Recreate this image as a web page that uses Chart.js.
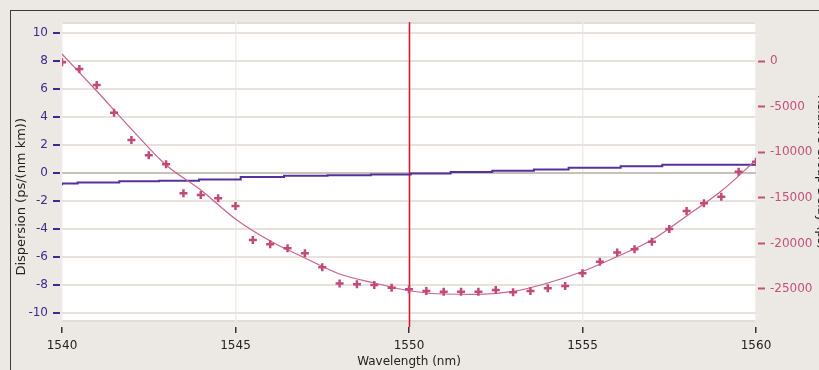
<!DOCTYPE html>
<html>
<head>
<meta charset="utf-8">
<script src="https://cdn.jsdelivr.net/npm/chart.js@4.4.0/dist/chart.umd.min.js"></script>
<style>
  html, body { margin: 0; padding: 0; background: #ece9e5; overflow: hidden; }
  #frame { position: absolute; left: 10px; top: 10px; width: 820px; height: 370px;
           border-left: 1px solid #3c3c3c; border-top: 1px solid #3c3c3c; }
  #wrap { position: absolute; left: 0; top: 0; }
</style>
</head>
<body>
<div id="frame"></div>
<div id="wrap"><canvas id="chart" width="832" height="370"></canvas></div>
<script>
// measured points (0.5 nm steps), right axis
const wavelengths = [1540, 1540.5, 1541, 1541.5, 1542, 1542.5, 1543, 1543.5, 1544, 1544.5,
                     1545, 1545.5, 1546, 1546.5, 1547, 1547.5, 1548, 1548.5, 1549, 1549.5,
                     1550, 1550.5, 1551, 1551.5, 1552, 1552.5, 1553, 1553.5, 1554, 1554.5,
                     1555, 1555.5, 1556, 1556.5, 1557, 1557.5, 1558, 1558.5, 1559, 1559.5, 1560];
const delayMeasured = [-140, -880, -2630, -5670, -8660, -10340, -11330, -14510, -14690, -15060,
                       -15900, -19630, -20100, -20540, -21090, -22620, -24400, -24490, -24560, -24860,
                       -25030, -25220, -25300, -25300, -25300, -25110, -25360, -25220, -24920, -24670,
                       -23280, -22010, -21000, -20650, -19810, -18420, -16450, -15600, -14880, -12140, -11040];

// fitted curve, right axis
const fitWavelengths = [1540, 1541, 1542, 1543, 1544, 1545, 1546, 1547, 1548, 1549, 1550,
                        1551, 1552, 1553, 1554, 1555, 1556, 1557, 1558, 1559, 1560];
const delayFit = [770, -3290, -7460, -11400, -14150, -17330, -19740, -21600, -23360, -24340, -25190,
                  -25550, -25580, -25270, -24340, -23080, -21440, -19630, -17000, -14260, -10860];

// dispersion (stepped), left axis
const stepWavelengths = [1540, 1540.45, 1541.65, 1542.8, 1543.95, 1545.15, 1546.4, 1547.65, 1548.9,
                         1550.05, 1551.2, 1552.4, 1553.6, 1554.6, 1556.1, 1557.3, 1558.6, 1560];
const dispersion = [-0.89, -0.77, -0.70, -0.60, -0.56, -0.48, -0.30, -0.22, -0.18,
                    -0.12, -0.05, 0.05, 0.14, 0.23, 0.35, 0.47, 0.58, 0.58];

const xTicks = [1540, 1545, 1550, 1555, 1560];
const leftTicks = [-10, -8, -6, -4, -2, 0, 2, 4, 6, 8, 10];
const rightTicks = [-25000, -20000, -15000, -10000, -5000, 0];
const markerWavelength = 1550;

const pink = "#c4507c";
const purple = "#3d2a8c";
const font = { family: "DejaVu Sans", size: 12 };

const plotBg = {
    id: "plotBg",
    beforeDraw(chart) {
        const { ctx, chartArea: a } = chart;
        ctx.save();
        ctx.fillStyle = "#ffffff";
        ctx.fillRect(a.left, a.top, a.right - a.left, a.bottom - a.top);
        ctx.strokeStyle = "#e2dcd6";
        ctx.lineWidth = 2;
        ctx.beginPath();
        ctx.moveTo(a.left, a.top + 1); ctx.lineTo(a.right, a.top + 1);
        ctx.moveTo(a.left, a.bottom - 1); ctx.lineTo(a.right, a.bottom - 1);
        ctx.stroke();
        ctx.restore();
    },
    beforeDatasetsDraw(chart) {
        // red marker line at 1550 nm
        const { ctx, chartArea: a } = chart;
        const x = Math.round(chart.scales.x.getPixelForValue(markerWavelength)) + 0.5;
        ctx.save();
        ctx.strokeStyle = "#e0102a";
        ctx.lineWidth = 1.5;
        ctx.beginPath();
        ctx.moveTo(x, a.top);
        ctx.lineTo(x, a.bottom + 5);
        ctx.stroke();
        ctx.restore();
    }
};

new Chart(document.getElementById("chart"), {
    type: "scatter",
    data: {
        datasets: [{
            label: "measured",
            data: wavelengths.map((w, i) => ({ x: w, y: delayMeasured[i] })),
            yAxisID: "y2",
            showLine: false,
            pointStyle: "cross",
            pointRadius: 4,
            pointBorderWidth: 2.5,
            borderColor: "#c24a78",
            order: 1
        }, {
            label: "fit",
            data: fitWavelengths.map((w, i) => ({ x: w, y: delayFit[i] })),
            yAxisID: "y2",
            showLine: true,
            tension: 0.4,
            cubicInterpolationMode: "monotone",
            borderColor: "#c8648c",
            borderWidth: 1.2,
            pointRadius: 0,
            order: 2
        }, {
            label: "dispersion",
            data: stepWavelengths.map((w, i) => ({ x: w, y: dispersion[i] })),
            yAxisID: "y",
            showLine: true,
            stepped: "after",
            borderColor: "#56309c",
            borderWidth: 2,
            pointRadius: 0,
            order: 3
        }]
    },
    options: {
        responsive: false,
        animation: false,
        layout: { padding: { top: 22, left: 0, right: 0, bottom: 0 } },
        plugins: { legend: { display: false }, tooltip: { enabled: false } },
        scales: {
            x: {
                type: "linear",
                position: "bottom",
                min: 1540,
                max: 1560,
                afterFit: (s) => { s.height = 48; },
                afterBuildTicks: (s) => { s.ticks = xTicks.map(v => ({ value: v })); },
                ticks: { color: "#222", font: font, padding: 6, maxRotation: 0, callback: (v) => String(v) },
                grid: {
                    color: "#f0ece8",
                    lineWidth: 1.5,
                    tickColor: "#333",
                    tickWidth: 1.5,
                    tickLength: 11,
                    tickBorderDash: [0, 5, 6, 20]
                },
                border: { display: false },
                title: { display: true, text: "Wavelength (nm)", color: "#222", font: font,
                         padding: { top: 0, bottom: 1 } }
            },
            y: {
                position: "left",
                min: -10.64,
                max: 10.75,
                afterFit: (s) => { s.width = 62; },
                afterBuildTicks: (s) => { s.ticks = leftTicks.map(v => ({ value: v })); },
                ticks: { color: purple, font: font, padding: 5 },
                grid: {
                    color: (ctx) => (ctx.tick && ctx.tick.value === 0 ? "#c9c1b9" : "#e8e2dc"),
                    lineWidth: 2,
                    tickColor: purple,
                    tickWidth: 2,
                    tickLength: 9,
                    tickBorderDash: [7, 20]
                },
                border: { display: false },
                title: { display: true, text: "Dispersion (ps/(nm km))\u2007\u2007\u2007\u2007\u2007\u2007",
                         color: "#222", font: { family: "DejaVu Sans", size: 13 },
                         padding: { top: 14, bottom: 0 } }
            },
            y2: {
                position: "right",
                min: -28620,
                max: 4280,
                afterFit: (s) => { s.width = 76; },
                afterBuildTicks: (s) => { s.ticks = rightTicks.map(v => ({ value: v })); },
                ticks: { color: pink, font: font, padding: 5, callback: (v) => String(v) },
                grid: {
                    drawOnChartArea: false,
                    tickColor: pink,
                    tickWidth: 2,
                    tickLength: 9,
                    tickBorderDash: [0, 2, 7, 20]
                },
                border: { display: false },
                title: { display: true, text: "Relative Group Delay (ps)", color: "#222", font: font,
                         padding: { top: 4, bottom: 0 } }
            }
        }
    },
    plugins: [plotBg]
});
</script>
</body>
</html>
